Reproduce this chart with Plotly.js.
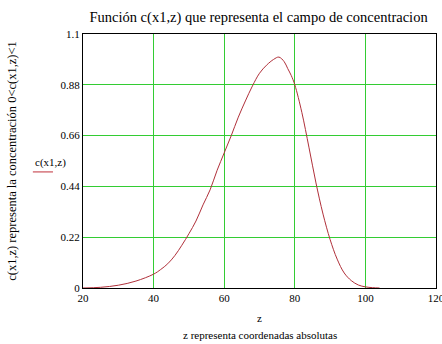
<!DOCTYPE html>
<html>
<head>
<meta charset="utf-8">
<script src="https://cdn.plot.ly/plotly-3.0.1.min.js"></script>
<style>html,body{margin:0;padding:0;background:#fff;}#chart{width:442px;height:344px;}</style>
</head>
<body>
<div id="chart"></div>
<script>
const zValues = [20, 25, 30, 35, 40, 42, 44, 46, 48, 50, 52, 54, 56, 58, 60, 62, 64, 66, 68, 70, 72, 74, 75.5, 77, 78, 79, 80, 82, 84, 86, 88, 90, 92, 94, 96, 98, 100, 102, 104];
const cValues = [0, 0.003, 0.012, 0.03, 0.06, 0.08, 0.105, 0.14, 0.185, 0.235, 0.29, 0.36, 0.425, 0.51, 0.585, 0.66, 0.74, 0.81, 0.875, 0.93, 0.965, 0.99, 1.0, 0.98, 0.95, 0.92, 0.88, 0.76, 0.61, 0.455, 0.32, 0.21, 0.125, 0.065, 0.032, 0.013, 0.005, 0.0015, 0];
const xTicks = [20, 40, 60, 80, 100, 120];
const yTicks = [0, 0.22, 0.44, 0.66, 0.88, 1.1];
const yTickLabels = ["0", "0.22", "0.44", "0.66", "0.88", "1.1"];

const serif = "Liberation Serif";
const trace = {
  x: zValues, y: cValues, type: "scatter", mode: "lines",
  line: {color: "#b0303a", width: 1, shape: "spline", smoothing: 1},
  showlegend: false, hoverinfo: "skip"
};
const layout = {
  width: 442, height: 344,
  margin: {l: 83, r: 6, t: 34, b: 56},
  paper_bgcolor: "#fff", plot_bgcolor: "#fff",
  font: {family: serif, size: 10, color: "#000"},
  title: {text: "Función c(x1,z) que representa el campo de concentracion", font: {family: serif, size: 14.5, color: "#000"}, x: 0.585, xanchor: "center", y: 0.95, yanchor: "middle"},
  xaxis: {
    range: [20, 120], tickvals: xTicks, ticktext: xTicks.map(String),
    showgrid: true, gridcolor: "#33cc33", gridwidth: 1,
    showline: true, linecolor: "#000", linewidth: 1, mirror: true,
    zeroline: false, ticks: "", ticklen: 0, ticklabeloverflow: "allow",
    tickfont: {family: serif, size: 11},
    title: {text: "z", font: {family: serif, size: 11}, standoff: 11}
  },
  yaxis: {
    range: [0, 1.1], tickvals: yTicks, ticktext: yTickLabels,
    showgrid: true, gridcolor: "#33cc33", gridwidth: 1,
    showline: true, linecolor: "#000", linewidth: 1, mirror: true,
    zeroline: false, ticks: "", ticklen: 0,
    tickfont: {family: serif, size: 11},
    title: {text: "c(x1,z) representa la concentración 0<c(x1,z)<1", font: {family: serif, size: 12.5}, standoff: 41}
  },
  annotations: [
    {text: "z representa coordenadas absolutas", xref: "paper", yref: "paper", x: 0.5, y: -0.185, xanchor: "center", yanchor: "middle", showarrow: false, font: {family: serif, size: 11}},
    {text: "c(x1,z)", xref: "paper", yref: "paper", x: -0.093, y: 0.496, xanchor: "center", yanchor: "middle", showarrow: false, font: {family: serif, size: 11}}
  ],
  shapes: [
    {type: "line", xref: "paper", yref: "paper", x0: -0.142, x1: -0.085, y0: 0.457, y1: 0.457, line: {color: "#c0303a", width: 1}}
  ]
};
Plotly.newPlot("chart", [trace], layout, {staticPlot: true, displayModeBar: false});
</script>
</body>
</html>
